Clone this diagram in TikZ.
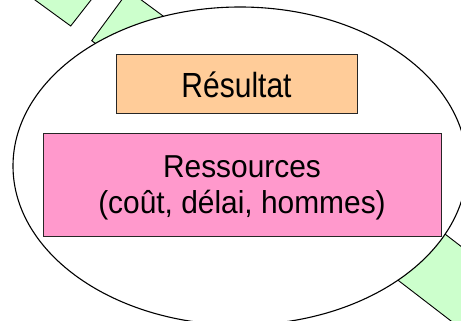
\documentclass[tikz,border=0pt]{standalone}
\usepackage{fontspec}
\setmainfont{Liberation Sans}
\newfontfamily\resfont[FakeStretch=0.86]{Liberation Sans}
\newfontfamily\ressfont[FakeStretch=0.943]{Liberation Sans}
\definecolor{peach}{HTML}{FFCC99}
\definecolor{pinkbox}{HTML}{FF99CC}
\definecolor{greenarrow}{HTML}{CCFFCC}
\tikzset{
  greenshape/.style={fill=greenarrow, draw=black, line width=0.9pt, line join=miter},
  bigellipse/.style={fill=white, draw=black, line width=1.1pt},
  boxnode/.style={draw=black!85, line width=0.9pt, inner sep=0pt, align=center},
}
\begin{document}
\begin{tikzpicture}[x=1pt,y=-1pt]
  \useasboundingbox (0,0) rectangle (461,321);
  \clip (0,0) rectangle (461,321);
  % green shapes behind the ellipse
  \coordinate (g1a) at (70.7,26);
  \coordinate (g1b) at (101.5,-13.4);
  \coordinate (g1c) at (61.1,-42.9);
  \coordinate (g1d) at (30.3,-3.45);
  \draw[greenshape] (g1a) -- (g1b) -- (g1c) -- (g1d) -- cycle;
  \coordinate (g2a) at (128.6,-9.4);
  \coordinate (g2b) at (91.7,40.7);
  \coordinate (g2c) at (140,76.3);
  \coordinate (g2d) at (176.9,26.2);
  \draw[greenshape] (g2a) -- (g2b) -- (g2c) -- (g2d) -- cycle;
  \coordinate (g3a) at (367.3,256.6);
  \coordinate (g3b) at (486.3,348.1);
  \coordinate (g3c) at (526.1,296.4);
  \coordinate (g3d) at (407.1,204.9);
  \draw[greenshape] (g3a) -- (g3b) -- (g3c) -- (g3d) -- cycle;
  % ellipse
  \draw[bigellipse] (240,166) ellipse [x radius=227, y radius=159];
  % boxes
  \node[boxnode, fill=peach, minimum width=241pt, minimum height=59pt,
        font=\resfont\fontsize{34.9}{40}\selectfont,
        text height=28pt, text depth=0pt] (res) at (236.5,83.5) {Résultat};
  \node[boxnode, fill=pinkbox, minimum width=398pt, minimum height=103pt,
        font=\ressfont\fontsize{31.7}{35.6}\selectfont,
        text depth=0pt] (ress) at (242,184.5) {Ressources\\(coût, délai, hommes)};
\end{tikzpicture}
\end{document}
